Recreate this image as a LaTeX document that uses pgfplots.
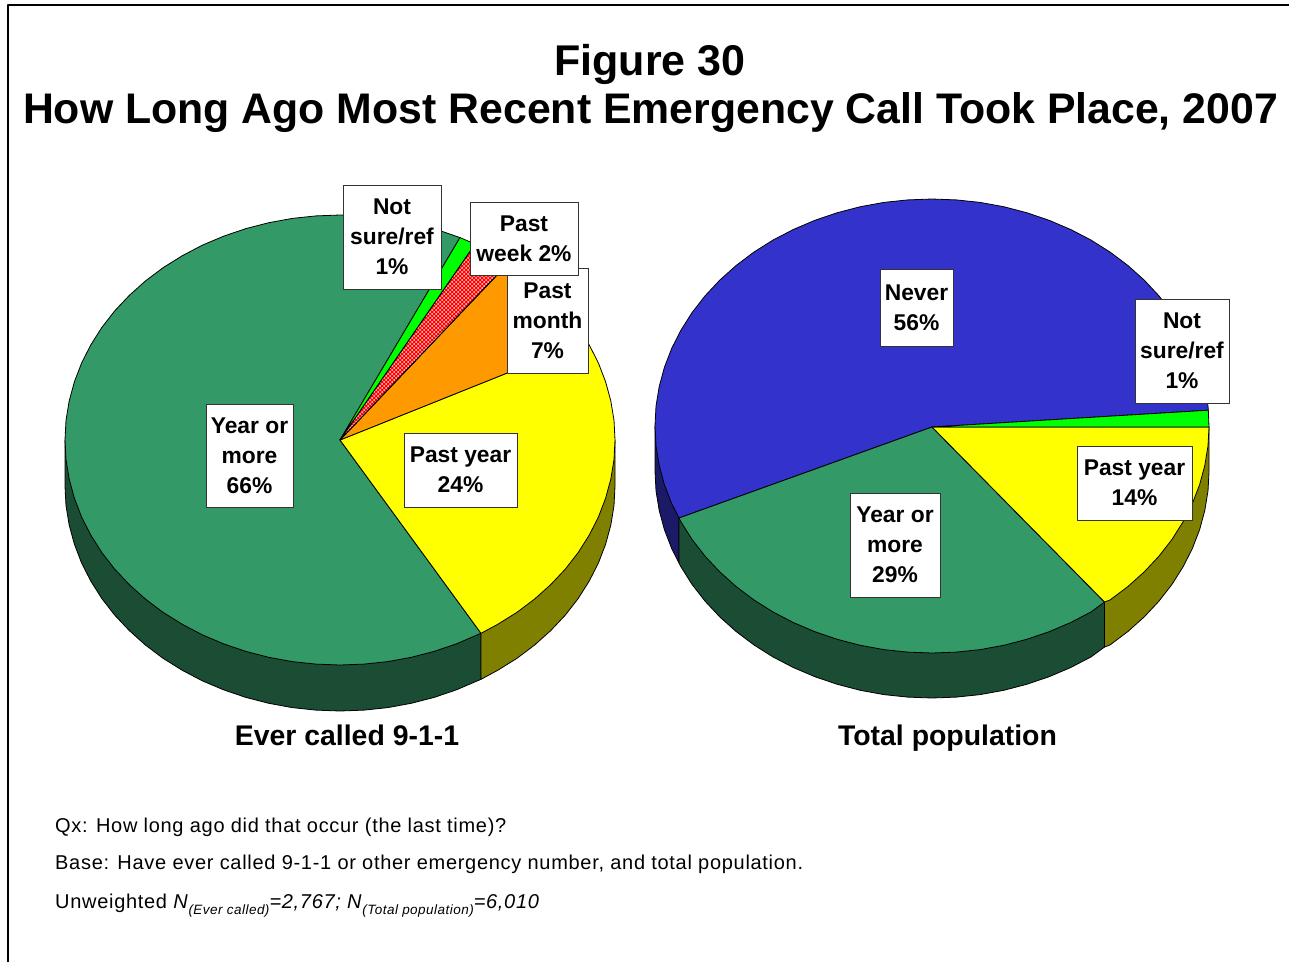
\documentclass[border=0pt]{standalone}
\usepackage{fontspec}
\setmainfont{Liberation Sans}
\usepackage{pgfplots}
\pgfplotsset{compat=1.18}
\usetikzlibrary{patterns}
\pgfdeclarepatternformonly{pinkdots}{\pgfqpoint{-1pt}{-1pt}}{\pgfqpoint{4pt}{4pt}}{\pgfqpoint{4pt}{4pt}}{%
  \pgfpathcircle{\pgfqpoint{0pt}{0pt}}{1pt}\pgfpathcircle{\pgfqpoint{2pt}{2pt}}{1pt}\pgfusepath{fill}}
\definecolor{pgreen}{HTML}{339966}
\definecolor{dgreen}{HTML}{1A4D33}
\definecolor{pyellow}{HTML}{FFFF00}
\definecolor{polive}{HTML}{808000}
\definecolor{porange}{HTML}{FF9900}
\definecolor{pbright}{HTML}{00FF00}
\definecolor{pblue}{HTML}{3333CC}
\definecolor{dblue}{HTML}{1A1A66}
\definecolor{pred}{HTML}{FF0000}
\tikzset{lab/.style={draw=black!80,line width=0.7pt,fill=white,align=center,inner sep=0pt,font=\fontsize{22.8}{30}\selectfont\bfseries},
 sub/.style={font=\fontsize{28.4}{32}\selectfont\bfseries,inner sep=0pt},
 foot/.style={anchor=west,inner sep=0pt,font=\fontsize{20}{22}\selectfont\addfontfeatures{LetterSpace=3.5}}}
\begin{document}
\begin{tikzpicture}
\begin{axis}[scale only axis,width=1289pt,height=962pt,xmin=0,xmax=1289,ymin=0,ymax=962,y dir=reverse,hide axis,
  every axis plot/.append style={mark=none,draw=black,line width=0.8pt,line join=round,forget plot}]
% page background keeps the full extent
\addplot[draw=none,fill=white] coordinates {(0,0)(1289,0)(1289,962)(0,962)(0,0)};
% frame
\addplot[fill=none,line width=2.4pt] coordinates {(8,962)(8,5)(1289,5)};
% ---- left pie: sides
\addplot[fill=dgreen] coordinates {(340,440)(65,440)(65,486)(66,505.6)(69.2,525.1)(74.4,544.2)(81.6,563)(90.8,581.1)(101.8,598.5)(114.7,615.1)(129.3,630.6)(145.5,645.1)(163.2,658.4)(182.3,670.3)(202.5,680.9)(223.8,689.9)(245.9,697.4)(268.8,703.3)(292.3,707.6)(316,710.1)(340,711)(364,710.1)(387.7,707.6)(411.2,703.3)(434.1,697.4)(456.2,689.9)(481,679.3)(481,633.3)(340,440)};
\addplot[fill=polive] coordinates {(340,440)(481,633.3)(481,679.3)(497.7,670.3)(516.8,658.4)(534.5,645.1)(550.7,630.6)(565.3,615.1)(578.2,598.5)(589.2,581.1)(598.4,563)(605.6,544.2)(610.8,525.1)(614,505.6)(615,486)(615,440)(340,440)};
% ---- left pie: wedges
\addplot[fill=pgreen] coordinates {(340,440)(460,237.6)(434.1,228.6)(411.2,222.7)(387.7,218.4)(364,215.9)(340,215)(316,215.9)(292.3,218.4)(268.8,222.7)(245.9,228.6)(223.8,236.1)(202.5,245.1)(182.3,255.7)(163.2,267.6)(145.5,280.9)(129.3,295.4)(114.7,310.9)(101.8,327.5)(90.8,344.9)(81.6,363)(74.4,381.8)(69.2,400.9)(66,420.4)(65,440)(66,459.6)(69.2,479.1)(74.4,498.2)(81.6,517)(90.8,535.1)(101.8,552.5)(114.7,569.1)(129.3,584.6)(145.5,599.1)(163.2,612.4)(182.3,624.3)(202.5,634.9)(223.8,643.9)(245.9,651.4)(268.8,657.3)(292.3,661.6)(316,664.1)(340,665)(364,664.1)(387.7,661.6)(411.2,657.3)(434.1,651.4)(456.2,643.9)(481,633.3)(340,440)};
\addplot[fill=pyellow] coordinates {(340,440)(481,633.3)(497.7,624.3)(516.8,612.4)(534.5,599.1)(550.7,584.6)(565.3,569.1)(578.2,552.5)(589.2,535.1)(598.4,517)(605.6,498.2)(610.8,479.1)(614,459.6)(615,440)(614,420.4)(610.8,400.9)(605.6,381.8)(598.4,363)(589.2,344.9)(587,341)(340,440)};
\addplot[fill=porange] coordinates {(340,440)(587,341)(578.2,327.5)(565.3,310.9)(550.7,295.4)(534.5,280.9)(516.8,267.6)(508.9,262.5)(340,440)};
\addplot[fill=pred,postaction={pattern=pinkdots,pattern color=white!85!pred}] coordinates {(340,440)(508.9,262.5)(497.7,255.7)(477.5,245.1)(475,244)(340,440)};
\addplot[fill=pbright] coordinates {(340,440)(475,244)(460,237.6)(340,440)};
% ---- right pie: sides
\addplot[fill=dblue] coordinates {(932,427)(655,426)(655,471)(656,490.8)(659.2,510.4)(664.4,529.7)(671.7,548.6)(679,563)(679,518)(932,427)};
\addplot[fill=dgreen] coordinates {(932,427)(679,518)(679,563)(681,566.9)(692.1,584.5)(705.1,601.2)(719.8,616.9)(736.1,631.5)(753.9,644.9)(773.1,657)(793.5,667.6)(814.9,676.7)(837.3,684.3)(860.3,690.3)(883.9,694.6)(907.8,697.1)(932,698)(956.2,697.1)(980.1,694.6)(1003.7,690.3)(1026.7,684.3)(1049.1,676.7)(1070.5,667.6)(1090.9,657)(1104.5,647)(1104.5,602)(932,427)};
\addplot[fill=polive] coordinates {(932,427)(1104.5,602)(1104.5,647)(1110.1,644.9)(1127.9,631.5)(1144.2,616.9)(1158.9,601.2)(1171.9,584.5)(1183,566.9)(1192.3,548.6)(1199.6,529.7)(1204.8,510.4)(1208,490.8)(1209,472)(1209,427)(932,427)};
% ---- right pie: wedges
\addplot[fill=pblue] coordinates {(932,427)(1208.3,410.2)(1208,406.2)(1204.8,386.6)(1199.6,367.3)(1192.3,348.4)(1183,330.1)(1171.9,312.5)(1158.9,295.8)(1144.2,280.1)(1127.9,265.5)(1110.1,252.1)(1090.9,240)(1070.5,229.4)(1049.1,220.3)(1026.7,212.7)(1003.7,206.7)(980.1,202.4)(956.2,199.9)(932,199)(907.8,199.9)(883.9,202.4)(860.3,206.7)(837.3,212.7)(814.9,220.3)(793.5,229.4)(773.1,240)(753.9,252.1)(736.1,265.5)(719.8,280.1)(705.1,295.8)(692.1,312.5)(681,330.1)(671.7,348.4)(664.4,367.3)(659.2,386.6)(656,406.2)(655,426)(656,445.8)(659.2,465.4)(664.4,484.7)(671.7,503.6)(679,518)(932,427)};
\addplot[fill=pgreen] coordinates {(932,427)(679,518)(681,521.9)(692.1,539.5)(705.1,556.2)(719.8,571.9)(736.1,586.5)(753.9,599.9)(773.1,612)(793.5,622.6)(814.9,631.7)(837.3,639.3)(860.3,645.3)(883.9,649.6)(907.8,652.1)(932,653)(956.2,652.1)(980.1,649.6)(1003.7,645.3)(1026.7,639.3)(1049.1,631.7)(1070.5,622.6)(1090.9,612)(1104.5,602)(932,427)};
\addplot[fill=pyellow] coordinates {(932,427)(1104.5,602)(1110.1,599.9)(1127.9,586.5)(1144.2,571.9)(1158.9,556.2)(1171.9,539.5)(1183,521.9)(1192.3,503.6)(1199.6,484.7)(1204.8,465.4)(1208,445.8)(1209,427)(932,427)};
\addplot[fill=pbright] coordinates {(932,427)(1209,427)(1208.3,410.2)(932,427)};
% ---- labels
\node[lab,minimum width=98pt,minimum height=104pt] at (axis cs:392,237) {Not\\sure/ref\\1\%};
\node[lab,minimum width=81pt,minimum height=105pt] at (axis cs:547.5,320.5) {Past\\month\\7\%};
\node[lab,minimum width=108pt,minimum height=73pt] at (axis cs:524,238.5) {Past\\week 2\%};
\node[lab,minimum width=113pt,minimum height=74pt] at (axis cs:460.5,470) {Past year\\24\%};
\node[lab,minimum width=87pt,minimum height=103pt] at (axis cs:249.5,455.5) {Year or\\more\\66\%};
\node[lab,minimum width=73pt,minimum height=77pt] at (axis cs:916.5,307.5) {Never\\56\%};
\node[lab,minimum width=94pt,minimum height=104pt] at (axis cs:1182,351) {Not\\sure/ref\\1\%};
\node[lab,minimum width=115pt,minimum height=74pt] at (axis cs:1134.5,483) {Past year\\14\%};
\node[lab,minimum width=90pt,minimum height=104pt] at (axis cs:895,545) {Year or\\more\\29\%};
% ---- titles
\node[inner sep=0pt,font=\fontsize{43}{48}\selectfont\bfseries] at (axis cs:650,64) {Figure 30};
\node[inner sep=0pt,font=\fontsize{42.8}{48}\selectfont\bfseries] at (axis cs:650.5,113) {How Long Ago Most Recent Emergency Call Took Place, 2007};
\node[sub,anchor=base] at (axis cs:347,745) {Ever called 9-1-1};
\node[sub,anchor=base] at (axis cs:947.5,745) {Total population};
% ---- notes
\node[foot] at (axis cs:55,827) {Qx: How long ago did that occur (the last time)?};
\node[foot] at (axis cs:55,864) {Base: Have ever called 9-1-1 or other emergency number, and total population.};
\node[foot] at (axis cs:55,906) {Unweighted \textit{N}\raisebox{-6pt}{\fontsize{13.5}{13}\selectfont\itshape (Ever called)}\textit{=2,767; N}\raisebox{-6pt}{\fontsize{13.5}{13}\selectfont\itshape (Total population)}\textit{=6,010}};
\end{axis}
\end{tikzpicture}
\end{document}
